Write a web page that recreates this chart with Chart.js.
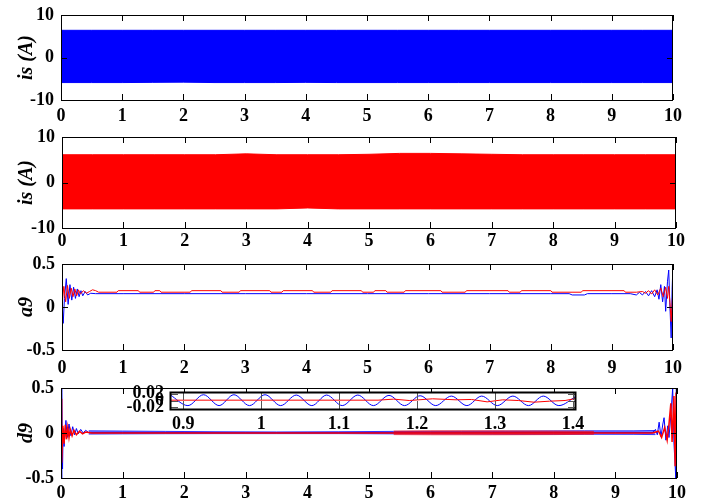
<!DOCTYPE html>
<html>
<head>
<meta charset="utf-8">
<script src="https://cdn.jsdelivr.net/npm/chart.js@4.4.1/dist/chart.umd.min.js"></script>
<style>
  html, body { margin: 0; padding: 0; background: #fff; width: 713px; height: 499px; overflow: hidden; }
  canvas { position: absolute; }
</style>
</head>
<body>
<canvas id="isBlueChart"></canvas>
<canvas id="isRedChart"></canvas>
<canvas id="a9Chart"></canvas>
<canvas id="d9Chart"></canvas>
<canvas id="insetChart"></canvas>
<script>
// shared axis ticks
const timeTicks = [0, 1, 2, 3, 4, 5, 6, 7, 8, 9, 10];
const isTicks = [-10, 0, 10];
const coefTicks = [-0.5, 0, 0.5];
const insetTimeTicks = [0.9, 1, 1.1, 1.2, 1.3, 1.4];
const insetTicks = [-0.02, 0, 0.02];

// is (A): envelope of the dense current waveform
const tIs = [0, 0.5, 1, 1.5, 2, 2.5, 3, 3.5, 4, 4.5, 5, 5.5, 6, 6.5, 7, 7.5, 8, 8.5, 9, 9.5, 10];
const isBlueHi = [6.4, 6.4, 6.4, 6.4, 6.4, 6.4, 6.4, 6.4, 6.4, 6.4, 6.4, 6.4, 6.4, 6.4, 6.4, 6.4, 6.4, 6.4, 6.4, 6.4, 6.4];
const isBlueLo = [-5.9, -5.9, -5.9, -5.85, -5.8, -5.9, -5.9, -5.9, -5.85, -5.9, -5.9, -5.9, -5.9, -5.9, -5.9, -5.9, -5.9, -5.9, -5.9, -5.9, -5.9];
const isRedHi = [6.1, 6.1, 6.1, 6.1, 6.1, 6.1, 6.3, 6.1, 6.1, 6.1, 6.2, 6.4, 6.4, 6.3, 6.2, 6.1, 6.1, 6.1, 6.1, 6.1, 6.1];
const isRedLo = [-5.8, -5.8, -5.8, -5.8, -5.8, -5.8, -5.8, -5.8, -5.6, -5.8, -5.8, -5.8, -5.8, -5.8, -5.8, -5.8, -5.8, -5.8, -5.8, -5.8, -5.8];

// a9
const tA9Blue = [0, 0.02, 0.04, 0.07, 0.1, 0.13, 0.16, 0.19, 0.22, 0.25,
  0.28, 0.31, 0.34, 0.38, 0.42, 0.47, 0.55, 1, 2, 3,
  4, 5, 6, 7, 8, 8.3, 8.35, 8.55, 8.6, 9,
  9.3, 9.4, 9.45, 9.5, 9.55, 9.6, 9.65, 9.7, 9.74, 9.77,
  9.8, 9.83, 9.86, 9.88, 9.91, 9.93, 9.95, 9.97, 9.985, 10];
const a9Blue = [0.06, -0.19, 0.1, 0.33, 0.03, 0.26, 0.08, 0.23, 0.1, 0.21,
  0.12, 0.19, 0.13, 0.18, 0.14, 0.16, 0.155, 0.155, 0.155, 0.155,
  0.155, 0.155, 0.155, 0.155, 0.155, 0.155, 0.14, 0.14, 0.155, 0.155,
  0.155, 0.14, 0.17, 0.14, 0.18, 0.13, 0.19, 0.12, 0.2, 0.09,
  0.26, 0.06, 0.24, -0.05, 0.3, 0.43, 0.0, -0.36, 0.2, 0.5];
const tA9Red = [0, 0.005, 0.03, 0.06, 0.09, 0.12, 0.15, 0.18, 0.21, 0.24,
  0.27, 0.3, 0.35, 0.4, 0.45, 0.5, 0.55, 0.6,
  0.9, 0.92, 1.25, 1.27, 1.5, 1.52, 1.6, 1.62, 2.1, 2.12, 2.6, 2.62,
  2.9, 2.92, 3.4, 3.42, 3.6, 3.62, 4.1, 4.12, 4.4, 4.42, 4.9, 4.92,
  5.1, 5.12, 5.3, 5.32, 5.6, 5.62, 6.2, 6.22, 6.6, 6.62, 7.3, 7.32,
  7.5, 7.52, 8.0, 8.02, 8.5, 8.52, 9.2, 9.22,
  9.4, 9.5, 9.55, 9.6, 9.65, 9.7, 9.75, 9.8, 9.84, 9.88,
  9.91, 9.93, 9.95, 9.97, 9.99, 10];
const a9Red = [0.5, 0.05, 0.24, 0.06, 0.25, 0.1, 0.22, 0.12, 0.21, 0.13,
  0.2, 0.15, 0.19, 0.16, 0.18, 0.2, 0.19, 0.172,
  0.172, 0.19, 0.19, 0.172, 0.172, 0.19, 0.19, 0.172, 0.172, 0.19, 0.19, 0.172,
  0.172, 0.19, 0.19, 0.172, 0.172, 0.19, 0.19, 0.172, 0.172, 0.19, 0.19, 0.172,
  0.172, 0.19, 0.19, 0.172, 0.172, 0.19, 0.19, 0.172, 0.172, 0.19, 0.19, 0.172,
  0.172, 0.19, 0.19, 0.172, 0.172, 0.19, 0.19, 0.172,
  0.172, 0.18, 0.16, 0.19, 0.15, 0.2, 0.14, 0.22, 0.12, 0.23,
  0.1, 0.24, 0.05, -0.17, 0.1, 0.08];

// d9
const tD9Blue = [0, 0.008, 0.016, 0.025, 0.035, 0.05, 0.08, 0.1, 0.13, 0.16,
  0.19, 0.22, 0.25, 0.28, 0.32, 0.36, 0.4, 0.45, 1, 2,
  3, 4, 5, 6, 7, 8, 9, 9.6, 9.65, 9.68,
  9.71, 9.74, 9.77, 9.79, 9.82, 9.85, 9.87, 9.9, 9.93, 9.95,
  9.98, 9.99, 10];
const d9Blue = [0.5, -0.5, 0.45, -0.4, 0.05, -0.15, 0.14, -0.05, 0.1, -0.03,
  0.07, -0.02, 0.05, -0.01, 0.04, 0.0, 0.03, 0.005, 0.005, 0.005,
  0.005, 0.005, 0.005, 0.005, 0.005, 0.005, 0.005, 0.005, 0.04, -0.02,
  0.12, -0.04, 0.1, 0.17, -0.08, 0.08, -0.05, 0.2, 0.5, -0.1,
  -0.5, 0.5, -0.5];
const tD9Red = [0, 0.006, 0.015, 0.03, 0.05, 0.07, 0.09, 0.11, 0.13, 0.15,
  0.18, 0.21, 0.25, 0.3, 0.35, 0.4, 0.5, 1, 5, 9,
  9.6, 9.7, 9.75, 9.8, 9.84, 9.87, 9.9, 9.92, 9.95, 9.97,
  9.985, 10];
const d9Red = [0, 0.38, -0.33, 0.08, -0.12, 0.09, -0.07, 0.06, -0.05, 0.04,
  -0.03, 0.03, -0.02, 0.02, -0.01, 0.01, 0, 0, 0, 0,
  0, 0.02, -0.05, 0.06, -0.08, 0.1, 0.33, -0.1, 0.41, -0.37,
  0.45, -0.5];
// d9 ripple bands (upper / lower edge of the fine oscillation)
const tD9BlueBand = [0.45, 1, 1.7, 2.5, 3.5, 4.5, 5.4, 6.5, 7.5, 8.5, 9.3, 9.65];
const d9BlueHi = [0.024, 0.022, 0.018, 0.014, 0.012, 0.014, 0.018, 0.02, 0.022, 0.024, 0.024, 0.028];
const d9BlueLo = [-0.012, -0.01, -0.008, -0.007, -0.007, -0.007, -0.01, -0.012, -0.014, -0.014, -0.015, -0.018];
const tD9RedBand = [5.4, 6, 7, 8, 8.65];
const d9RedHi = [0.022, 0.024, 0.024, 0.022, 0.018];
const d9RedLo = [-0.018, -0.02, -0.02, -0.018, -0.014];

// inset (zoom 0.88 .. 1.4 s)
const tInsetBlue = [0.883, 0.906, 0.926, 0.946, 0.965, 0.985, 1.005, 1.025, 1.045, 1.065,
  1.084, 1.104, 1.124, 1.144, 1.164, 1.184, 1.204, 1.224, 1.244, 1.264,
  1.283, 1.303, 1.323, 1.343, 1.362, 1.382, 1.404];
const insetBlue = [0.017, -0.015, 0.017, -0.015, 0.017, -0.015, 0.017, -0.015, 0.016, -0.015,
  0.016, -0.015, 0.016, -0.015, 0.015, -0.015, 0.014, -0.015, 0.013, -0.015,
  0.013, -0.015, 0.013, -0.015, 0.013, -0.015, 0.012];
const tInsetRed = [0.883, 1.15, 1.17, 1.19, 1.22, 1.25, 1.27, 1.29, 1.31, 1.33, 1.35, 1.37, 1.39, 1.404];
const insetRed = [0.001, 0.001, 0.004, 0.0, 0.005, 0.002, 0.003, -0.004, 0.002, 0.0, -0.005, -0.002, 0.0, 0.006];

const FONT = "'Liberation Serif', 'Times New Roman', serif";
const BLUE = '#0000ff';
const RED = '#ff0000';

function pts(t, v) {
  return t.map((x, i) => ({ x: x, y: v[i] }));
}

function line(t, v, color, extra) {
  return Object.assign({
    data: pts(t, v), borderColor: color, borderWidth: 1,
    pointRadius: 0, fill: false, tension: 0
  }, extra || {});
}

// filled band between an upper and a lower edge
function band(t, hi, lo, color, edge) {
  return [
    { data: pts(t, hi), borderColor: edge, backgroundColor: color, borderWidth: 1, pointRadius: 0, fill: '+1' },
    { data: pts(t, lo), borderColor: edge, borderWidth: 1, pointRadius: 0, fill: false }
  ];
}

// box with inward tick marks, MATLAB style
const frame = {
  id: 'frame',
  beforeDatasetsDraw(chart, args, o) {
    if (o.bg) {
      const a = chart.chartArea;
      chart.ctx.save();
      chart.ctx.fillStyle = '#fff';
      chart.ctx.fillRect(a.left, a.top, a.right - a.left, a.bottom - a.top);
      chart.ctx.restore();
    }
  },
  afterDatasetsDraw(chart, args, o) {
    const { ctx, chartArea: a, scales: { x, y } } = chart;
    const len = o.len;
    ctx.save();
    ctx.strokeStyle = o.tickColor || '#000';
    ctx.lineWidth = 1;
    ctx.beginPath();
    x.ticks.forEach(t => {
      const px = Math.round(x.getPixelForValue(t.value)) + 0.5;
      ctx.moveTo(px, a.bottom); ctx.lineTo(px, a.bottom - len);
      ctx.moveTo(px, a.top); ctx.lineTo(px, a.top + len);
    });
    y.ticks.forEach(t => {
      const py = Math.round(y.getPixelForValue(t.value)) + 0.5;
      ctx.moveTo(a.left, py); ctx.lineTo(a.left + len, py);
      ctx.moveTo(a.right, py); ctx.lineTo(a.right - len, py);
    });
    ctx.stroke();
    ctx.strokeStyle = '#000';
    ctx.lineWidth = o.lw;
    ctx.strokeRect(a.left + 0.5, a.top + 0.5, a.right - a.left - 1, a.bottom - a.top);
    ctx.restore();
  }
};

function plot(id, g, c) {
  const cv = document.getElementById(id);
  cv.width = g.w;
  cv.height = g.h;
  cv.style.left = g.x0 + 'px';
  cv.style.top = g.y0 + 'px';
  const tickFont = { family: FONT, size: c.fs, weight: 'bold', lineHeight: 1 };
  return new Chart(cv, {
    type: 'line',
    data: { datasets: c.datasets },
    plugins: [frame],
    options: {
      responsive: false,
      animation: false,
      events: [],
      layout: { padding: { top: g.pt, right: g.pr, left: 0, bottom: 0 } },
      plugins: {
        legend: { display: false },
        tooltip: { enabled: false },
        frame: { len: c.len, lw: c.lw, bg: !!c.bg, tickColor: c.tickColor }
      },
      scales: {
        x: {
          type: 'linear', min: c.xMin, max: c.xMax,
          grid: { display: false, drawTicks: false },
          border: { display: false },
          afterBuildTicks: s => { s.ticks = c.xTicks.map(v => ({ value: v })); },
          afterFit: s => { s.height = g.xh; },
          ticks: {
            font: tickFont, color: '#000', padding: c.xPad,
            autoSkip: false, maxRotation: 0, callback: v => String(v)
          }
        },
        y: {
          type: 'linear', min: c.yMin, max: c.yMax,
          grid: { display: false, drawTicks: false },
          border: { display: false },
          afterBuildTicks: s => { s.ticks = c.yTicks.map(v => ({ value: v })); },
          afterFit: s => { s.width = g.yw; },
          ticks: {
            font: tickFont, color: '#000', padding: c.yPad,
            autoSkip: false, callback: v => String(v)
          },
          title: c.title ? {
            display: true, text: c.title, color: '#000',
            font: { family: FONT, size: 20, weight: 'bold', style: 'italic', lineHeight: 1 },
            padding: { top: 17, bottom: 0 }
          } : { display: false }
        }
      }
    }
  });
}

// geometry of a main panel from its plot box
function mainGeom(l, r, t, b) {
  return { x0: 0, y0: t - 12, w: 713, h: b - t + 42, pt: 12, pr: 713 - r, yw: l, xh: 30 };
}

const mainCommon = { xMin: 0, xMax: 10, xTicks: timeTicks, fs: 18, yPad: 7, len: 6, lw: 1 };

plot('isBlueChart', mainGeom(61, 673, 11, 100), Object.assign({}, mainCommon, {
  yMin: -10, yMax: 10, yTicks: isTicks, xPad: 7, title: 'is (A)',
  datasets: band(tIs, isBlueHi, isBlueLo, BLUE, BLUE)
}));

plot('isRedChart', mainGeom(62, 676, 133, 228), Object.assign({}, mainCommon, {
  yMin: -10, yMax: 10, yTicks: isTicks, xPad: 4, title: 'is (A)',
  datasets: band(tIs, isRedHi, isRedLo, RED, RED)
}));

plot('a9Chart', mainGeom(62, 673, 260, 350), Object.assign({}, mainCommon, {
  yMin: -0.5, yMax: 0.5, yTicks: coefTicks, xPad: 9, title: 'a9',
  datasets: [
    line(tA9Red, a9Red, RED),
    line(tA9Blue, a9Blue, BLUE)
  ]
}));

plot('d9Chart', mainGeom(61, 677, 384, 478), Object.assign({}, mainCommon, {
  yMin: -0.5, yMax: 0.5, yTicks: coefTicks, xPad: 6, title: 'd9',
  datasets: [
    line(tD9Red, d9Red, RED, { borderWidth: 1.5 }),
    ...band(tD9RedBand, d9RedHi, d9RedLo, 'rgba(255,0,0,0.45)', 'rgba(255,0,0,0.6)'),
    line(tD9Blue, d9Blue, BLUE),
    ...band(tD9BlueBand, d9BlueHi, d9BlueLo, 'rgba(0,0,255,0.5)', 'rgba(0,0,255,0.75)')
  ]
}));

// inset: top padding kept above the half label height so the box starts at 392
plot('insetChart', { x0: 100, y0: 376, w: 500, h: 59, pt: 16, pr: 24, yw: 70, xh: 26 }, {
  xMin: 0.883, xMax: 1.404, xTicks: insetTimeTicks,
  yMin: -0.025, yMax: 0.025, yTicks: insetTicks,
  fs: 18, xPad: 6, yPad: 6, len: 8, lw: 2, bg: true, tickColor: '#555',
  datasets: [
    line(tInsetRed, insetRed, RED),
    line(tInsetBlue, insetBlue, BLUE, { cubicInterpolationMode: 'monotone' })
  ]
});
</script>
</body>
</html>
